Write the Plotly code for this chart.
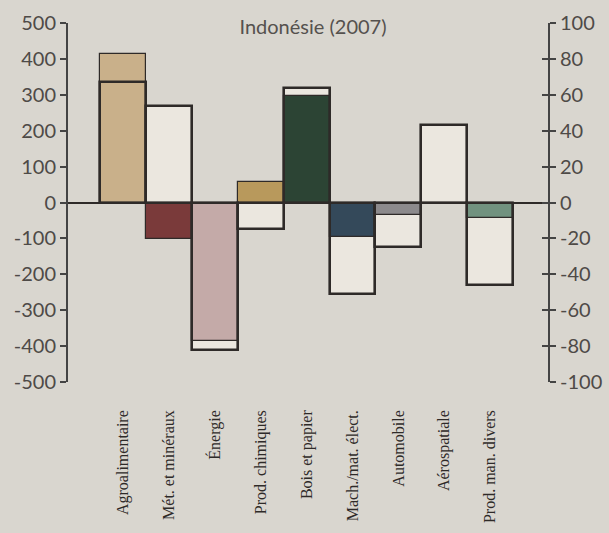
import plotly.graph_objects as go

categories = ["Agroalimentaire", "Mét. et minéraux", "Énergie", "Prod. chimiques",
              "Bois et papier", "Mach./mat. élect.", "Automobile", "Aérospatiale",
              "Prod. man. divers"]
values_left = [415, -102, -387, 58, 296, -97, -36, 0, -44]
values_right = [67, 54, -82, -15, 64, -51, -25, 43, -46]
fill_colors = ["#c9b08a", "#7a3a3a", "#c4aaa8", "#b8995c", "#2c4434",
               "#34495a", "#8c8a8c", "#6e8a78", "#71927f"]
left_ticks = [500, 400, 300, 200, 100, 0, -100, -200, -300, -400, -500]
right_ticks = [100, 80, 60, 40, 20, 0, -20, -40, -60, -80, -100]

bg = "#d9d6cf"
dark = "#2e2a28"
x = list(range(len(categories)))

fig = go.Figure()
# white fill of outlined bars (right axis, base layer)
fig.add_trace(go.Bar(x=x, y=values_right, yaxis="y", width=1,
                     marker=dict(color="#ebe7df", line=dict(width=0)),
                     showlegend=False, hoverinfo="skip"))
# filled bars (left axis)
fig.add_trace(go.Bar(x=x, y=values_left, yaxis="y2", width=1,
                     marker=dict(color=fill_colors, line=dict(color=dark, width=1.2)),
                     showlegend=False))
# outline borders (right axis)
fig.add_trace(go.Bar(x=x, y=values_right, yaxis="y3", width=1,
                     marker=dict(color="rgba(0,0,0,0)", line=dict(color=dark, width=2.6)),
                     showlegend=False))

axis_font = dict(family="Lato, Open Sans, sans-serif", size=20, color="#4e4a47")

fig.update_layout(
    width=609, height=533,
    margin=dict(l=68, r=61, t=23, b=151),
    paper_bgcolor=bg, plot_bgcolor=bg,
    barmode="overlay",
    bargap=0,
    title=dict(text="Indonésie (2007)", x=0.514, xanchor="center", y=0.95, yanchor="middle",
               font=dict(family="Lato, Open Sans, sans-serif", size=20, color="#55514e")),
    xaxis=dict(range=[-1.2, 9.26], tickmode="array", tickvals=x, ticktext=categories,
               tickangle=-90, showgrid=False, zeroline=False, showline=False, ticks="",
               ticklabelstandoff=24, automargin=False,
               tickfont=dict(family="Liberation Serif, serif", size=16, color="#2e2a28")),
    # right axis (percent), labels outside
    yaxis=dict(range=[-100, 100], side="right", tickmode="array",
               tickvals=right_ticks, ticktext=[str(v) for v in right_ticks],
               showgrid=False, zeroline=False, automargin=False,
               showline=True, linecolor="#444", linewidth=2,
               ticks="outside", ticklen=6, tickwidth=2, tickcolor="#444",
               tickfont=axis_font),
    # left axis (values)
    yaxis2=dict(range=[-500, 500], overlaying="y", side="left", tickmode="array",
                tickvals=left_ticks, ticktext=[str(v) for v in left_ticks],
                showgrid=False, zeroline=True, zerolinecolor=dark, zerolinewidth=2,
                showline=True, linecolor="#444", linewidth=2, automargin=False,
                ticks="outside", ticklen=6, tickwidth=2, tickcolor="#444",
                tickfont=axis_font),
    # right axis inner ticks, hosts the outline borders
    yaxis3=dict(range=[-100, 100], overlaying="y", side="right", tickmode="array",
                tickvals=right_ticks, showticklabels=False, showgrid=False, zeroline=False,
                showline=False, ticks="inside", ticklen=6, tickwidth=2, tickcolor="#444",
                automargin=False),
)

fig.write_html("out.html",
               config={"displayModeBar": False},
               post_script="document.body.style.margin='0';"
                           "document.body.style.background='#d9d6cf';")
